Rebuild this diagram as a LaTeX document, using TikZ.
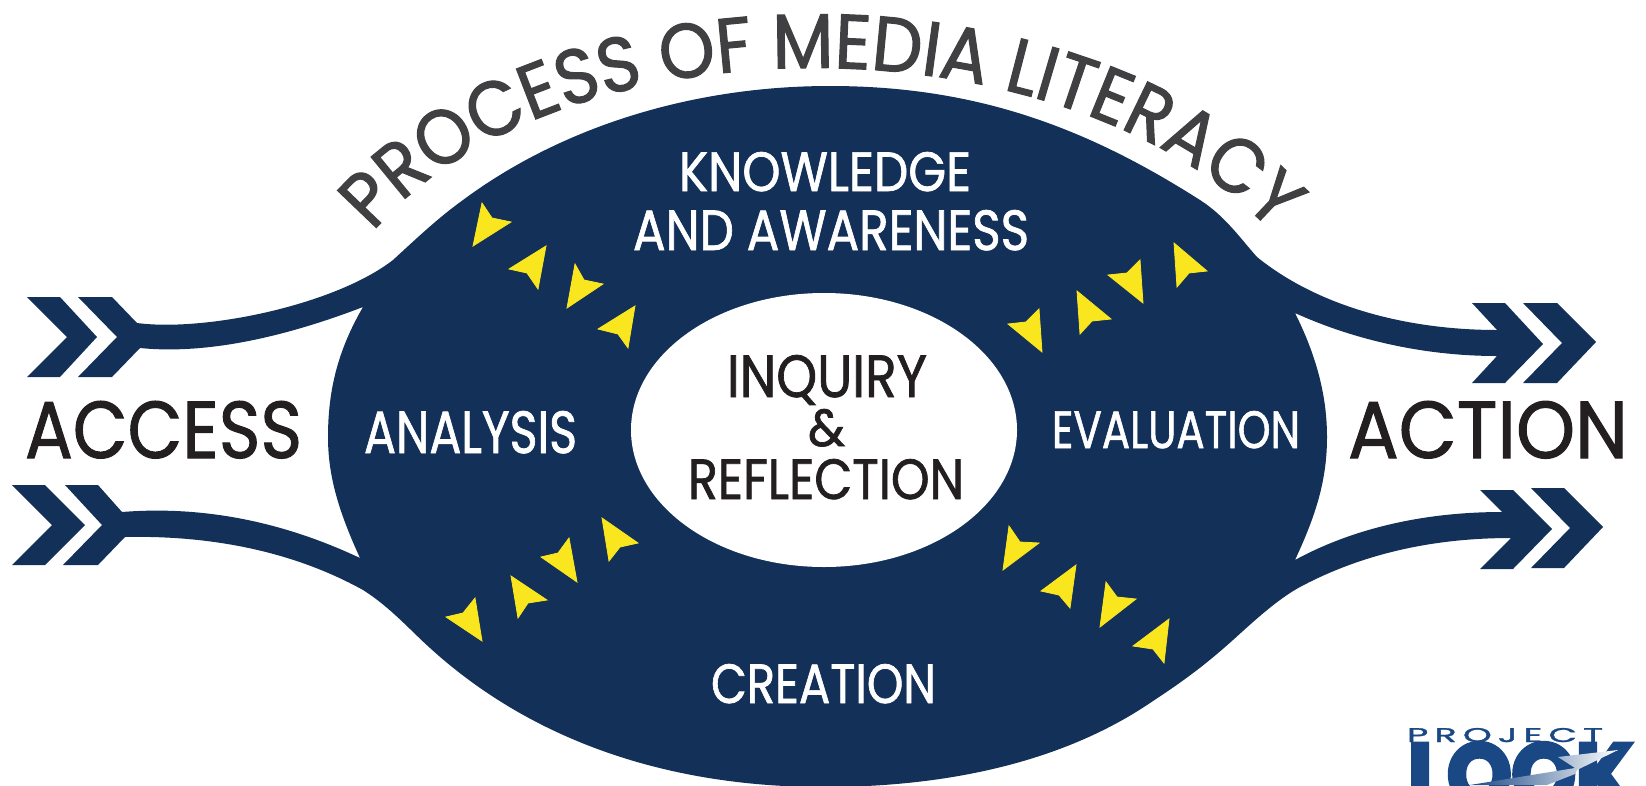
\documentclass[tikz,border=0pt]{standalone}
\usepackage{fontspec}
\usepackage{graphicx}
\usetikzlibrary{decorations.text}
\setmainfont{Poppins}[FakeBold=1.3]
\newfontfamily\titlefont[FakeStretch=0.92,FakeBold=1.5]{Poppins}
\newfontfamily\logofont[BoldFeatures={FakeBold=5}]{Poppins}
\definecolor{bodyblue}{RGB}{18,48,88}
\definecolor{dartyellow}{RGB}{250,230,30}
\definecolor{inkblack}{RGB}{35,31,32}
\definecolor{titlegray}{RGB}{64,64,66}
\definecolor{logoblue}{RGB}{26,72,132}
\newcommand{\fittext}[3]{\resizebox{#1pt}{#2pt}{#3}}
\tikzset{
  lbl/.style={anchor=base west,inner sep=0pt,outer sep=0pt},
  whitelbl/.style={lbl,text=white},
  blacklbl/.style={lbl,text=inkblack},
  dart/.style={fill=dartyellow,draw=dartyellow,line width=0.8pt,line join=miter},
  bodyshape/.style={fill=bodyblue},
}
\begin{document}
\begin{tikzpicture}[x=1pt,y=-1pt]
\useasboundingbox (0,0) rectangle (1646,785);
\begin{scope}
\clip (0,0) rectangle (1646,785);
% main body with four arrows
\fill[bodyshape] (78,297) -- (112,297) -- (137,323)
  .. controls (205,332) and (335,305) .. (393,260)
  .. controls (417,238) and (438,218) .. (463,200)
  .. controls (560,128) and (690,86) .. (830,86)
  .. controls (980,86) and (1090,130) .. (1200,200)
  .. controls (1225,216) and (1240,238) .. (1257,257)
  .. controls (1320,308) and (1410,330) .. (1497,330)
  -- (1472,303) -- (1505,303) -- (1543,344) -- (1505,383) -- (1472,383) -- (1497,356)
  .. controls (1420,356) and (1350,338) .. (1295,313)
  .. controls (1316,355) and (1327,395) .. (1327,437)
  .. controls (1327,480) and (1316,515) .. (1295,560)
  .. controls (1350,530) and (1420,512) .. (1502,512)
  -- (1480,490) -- (1513,490) -- (1552,529) -- (1513,569) -- (1480,569) -- (1511,538)
  .. controls (1430,538) and (1360,555) .. (1300,587)
  .. controls (1278,599) and (1255,620) .. (1233,640)
  .. controls (1205,665) and (1185,680) .. (1150,703)
  .. controls (1070,757) and (960,787) .. (824,787)
  .. controls (650,787) and (520,730) .. (430,648)
  .. controls (410,630) and (390,607) .. (363,590)
  .. controls (300,555) and (220,535) .. (125,537)
  -- (98,565) -- (63,565) -- (102,525) -- (65,485) -- (98,485) -- (122,512)
  .. controls (210,505) and (290,525) .. (360,558)
  .. controls (338,510) and (328,475) .. (328,437)
  .. controls (328,390) and (338,350) .. (363,307)
  .. controls (290,335) and (210,355) .. (140,348)
  -- (112,377) -- (78,377) -- (117,337) -- cycle;
% detached chevrons
\fill[bodyshape] (27,297) -- (60,297) -- (97,337) -- (60,377) -- (27,377) -- (67,337) -- cycle;
\fill[bodyshape] (12,485) -- (45,485) -- (85,525) -- (45,565) -- (12,565) -- (52,525) -- cycle;
\fill[bodyshape] (1523,303) -- (1557,303) -- (1596,342) -- (1557,383) -- (1523,383) -- (1562,343) -- cycle;
\fill[bodyshape] (1531,488) -- (1564,488) -- (1603,527) -- (1564,568) -- (1531,568) -- (1570,528) -- cycle;
% inner ellipse
\fill[white] (824,430) ellipse [x radius=193,y radius=137];
% yellow darts
\filldraw[dart] (482,203)--(492,218)--(511,222)--(473,246)--cycle;
\filldraw[dart] (546,246)--(509,269)--(527,273)--(538,289)--cycle;
\filldraw[dart] (575,264)--(584,280)--(603,284)--(567,308)--cycle;
\filldraw[dart] (635,306)--(598,329)--(618,334)--(628,348)--cycle;
\filldraw[dart] (1008,324)--(1026,322)--(1039,309)--(1042,352)--cycle;
\filldraw[dart] (1077,291)--(1111,319)--(1092,321)--(1080,334)--cycle;
\filldraw[dart] (1108,275)--(1127,273)--(1140,260)--(1143,303)--cycle;
\filldraw[dart] (1174,243)--(1207,271)--(1189,273)--(1177,287)--cycle;
\filldraw[dart] (446,617)--(463,613)--(475,598)--(482,641)--cycle;
\filldraw[dart] (511,576)--(547,600)--(528,603)--(518,618)--cycle;
\filldraw[dart] (541,557)--(558,553)--(569,538)--(577,582)--cycle;
\filldraw[dart] (602,518)--(638,543)--(620,547)--(609,561)--cycle;
\filldraw[dart] (1009,526)--(1020,542)--(1039,543)--(1003,570)--cycle;
\filldraw[dart] (1076,565)--(1041,591)--(1059,595)--(1070,608)--cycle;
\filldraw[dart] (1106,582)--(1117,597)--(1136,599)--(1100,627)--cycle;
\filldraw[dart] (1169,619)--(1133,646)--(1153,649)--(1164,663)--cycle;
% labels
\node[blacklbl] (access) at (25,458) {\fittext{277}{57}{ACCESS}};
\node[blacklbl] (action) at (1348,458) {\fittext{280}{57}{ACTION}};
\node[whitelbl] (analysis) at (364,453) {\fittext{213}{42}{ANALYSIS}};
\node[whitelbl] (evaluation) at (1052,448) {\fittext{248}{37}{EVALUATION}};
\node[whitelbl] (knowledge) at (679,191) {\fittext{292}{39}{KNOWLEDGE}};
\node[whitelbl] (awareness) at (633,250) {\fittext{396}{40}{AND AWARENESS}};
\node[whitelbl] (creation) at (711,703) {\fittext{225}{39}{CREATION}};
\node[blacklbl] (inquiry) at (727,397) {\fittext{200}{42}{INQUIRY}};
\node[blacklbl] (amp) at (808,446) {\fittext{37}{37}{\&}};
\node[blacklbl] (reflection) at (688,499) {\fittext{276}{40}{REFLECTION}};
% curved title
\path[decorate,decoration={text along path,text align=left,
   text={|\titlefont\fontsize{77}{77}\selectfont\color{titlegray}|PROCESS OF MEDIA LITERACY}}]
   (373,232) .. controls (560,10) and (1090,10) .. (1290,252);
% logo
\node[lbl,text=logoblue] (project) at (1407,742) {\fittext{196}{14}{P\,R\,O\,J\,E\,C\,T}};
\node[lbl,text=logoblue] (look) at (1408,805) {\fittext{225}{62}{\logofont\bfseries LOOK}};
\shade[left color=logoblue,right color=white] (1470,785) -- (1575,768) -- (1558,757) -- (1618,750) -- (1577,770) -- (1575,774) -- (1547,785) -- cycle;
\end{scope}
\end{tikzpicture}
\end{document}
